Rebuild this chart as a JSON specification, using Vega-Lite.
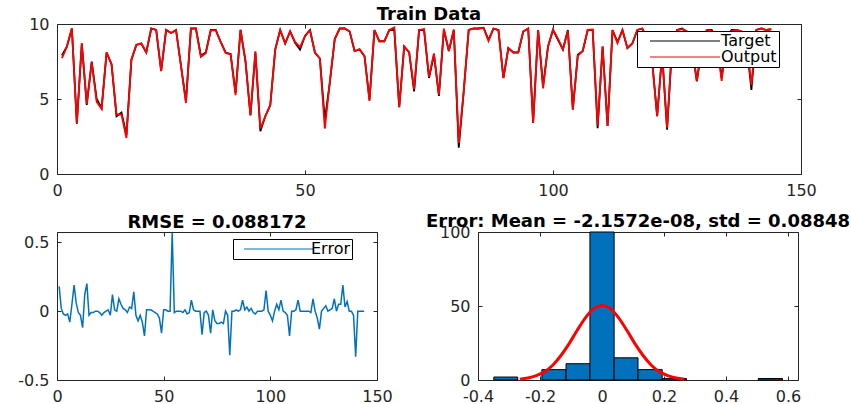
{
  "$schema": "https://vega.github.io/schema/vega-lite/v6.json",
  "background": "white",
  "padding": {"left": 17, "top": 5, "right": 0, "bottom": 0},
  "bounds": "flush",
  "spacing": 58,
  "resolve": {"scale": {"color": "independent"}, "legend": {"color": "independent"}},
  "config": {
    "locale": {"number": {"decimal": ".", "thousands": ",", "grouping": [3], "currency": ["$", ""], "minus": "-"}},
    "view": {"stroke": "#262626", "strokeWidth": 1},
    "axis": {"domain": false, "grid": false, "tickSize": -4, "tickColor": "#262626", "tickWidth": 1,
             "labelFont": "DejaVu Sans", "labelFontSize": 16, "labelColor": "#262626", "labelPadding": 12,
             "labelFlush": false, "labelOverlap": false},
    "title": {"font": "DejaVu Sans", "fontSize": 18, "fontWeight": "bold", "color": "#000000", "offset": 1},
    "legend": {"strokeColor": "#000000", "fillColor": "#ffffff", "labelFont": "DejaVu Sans", "labelFontSize": 16,
               "labelColor": "#000000", "labelLimit": 0, "title": null, "symbolType": "M-7,0L7,0", "symbolSize": 100,
               "symbolStrokeWidth": 1.2, "padding": 2, "rowPadding": 0}
  },
  "datasets": {
    "series": [
      {"i":1,"t":7.9,"o":7.72,"e":0.18},{"i":2,"t":8.5,"o":8.48,"e":0.02},{"i":3,"t":9.7,"o":9.72,"e":-0.02},{"i":4,"t":3.35,"o":3.38,"e":-0.03},
      {"i":5,"t":8.7,"o":8.72,"e":-0.02},{"i":6,"t":4.6,"o":4.68,"e":-0.08},{"i":7,"t":7.5,"o":7.45,"e":0.05},{"i":8,"t":5.0,"o":4.81,"e":0.19},
      {"i":9,"t":4.4,"o":4.34,"e":0.06},{"i":10,"t":8.1,"o":8.11,"e":-0.01},{"i":11,"t":7.3,"o":7.33,"e":-0.03},{"i":12,"t":3.85,"o":3.97,"e":-0.12},
      {"i":13,"t":4.1,"o":3.98,"e":0.12},{"i":14,"t":2.6,"o":2.4,"e":0.2},{"i":15,"t":7.6,"o":7.63,"e":-0.03},{"i":16,"t":8.6,"o":8.61,"e":-0.01},
      {"i":17,"t":8.7,"o":8.71,"e":-0.01},{"i":18,"t":8.1,"o":8.1,"e":0},{"i":19,"t":9.7,"o":9.7,"e":0},{"i":20,"t":9.6,"o":9.61,"e":-0.01},
      {"i":21,"t":6.85,"o":6.88,"e":-0.03},{"i":22,"t":9.6,"o":9.61,"e":-0.01},{"i":23,"t":9.4,"o":9.4,"e":0},{"i":24,"t":9.6,"o":9.59,"e":0.01},
      {"i":25,"t":7.2,"o":7.23,"e":-0.03},{"i":26,"t":4.85,"o":4.73,"e":0.12},{"i":27,"t":9.7,"o":9.69,"e":0.01},{"i":28,"t":9.7,"o":9.7,"e":0},
      {"i":29,"t":7.9,"o":7.81,"e":0.09},{"i":30,"t":8.1,"o":8.05,"e":0.05},{"i":31,"t":9.6,"o":9.58,"e":0.02},{"i":32,"t":9.6,"o":9.59,"e":0.01},
      {"i":33,"t":8.8,"o":8.81,"e":-0.01},{"i":34,"t":8.1,"o":8.07,"e":0.03},{"i":35,"t":8.0,"o":7.98,"e":0.02},{"i":36,"t":5.4,"o":5.26,"e":0.14},
      {"i":37,"t":9.6,"o":9.63,"e":-0.03},{"i":38,"t":7.5,"o":7.57,"e":-0.07},{"i":39,"t":3.9,"o":3.93,"e":-0.03},{"i":40,"t":8.1,"o":8.18,"e":-0.08},
      {"i":41,"t":2.85,"o":3.03,"e":-0.18},{"i":42,"t":3.85,"o":3.84,"e":0.01},{"i":43,"t":4.6,"o":4.59,"e":0.01},{"i":44,"t":8.3,"o":8.29,"e":0.01},
      {"i":45,"t":9.6,"o":9.6,"e":0},{"i":46,"t":8.7,"o":8.71,"e":-0.01},{"i":47,"t":9.5,"o":9.52,"e":-0.02},{"i":48,"t":8.75,"o":8.8,"e":-0.05},
      {"i":49,"t":8.3,"o":8.46,"e":-0.16},{"i":50,"t":9.2,"o":9.19,"e":0.01},{"i":51,"t":9.6,"o":9.59,"e":0.01},{"i":52,"t":8.1,"o":8.1,"e":0},
      {"i":53,"t":7.7,"o":7.7,"e":0},{"i":54,"t":3.6,"o":3.03,"e":0.57},{"i":55,"t":6.1,"o":6.11,"e":-0.01},{"i":56,"t":9.0,"o":9.0,"e":0},
      {"i":57,"t":9.7,"o":9.7,"e":0},{"i":58,"t":9.7,"o":9.7,"e":0},{"i":59,"t":9.5,"o":9.51,"e":-0.01},{"i":60,"t":8.2,"o":8.19,"e":0.01},
      {"i":61,"t":8.3,"o":8.32,"e":-0.02},{"i":62,"t":7.85,"o":7.86,"e":-0.01},{"i":63,"t":4.95,"o":4.87,"e":0.08},{"i":64,"t":9.6,"o":9.59,"e":0.01},
      {"i":65,"t":8.85,"o":8.85,"e":0},{"i":66,"t":8.85,"o":8.85,"e":0},{"i":67,"t":9.6,"o":9.6,"e":0},{"i":68,"t":9.6,"o":9.77,"e":-0.17},
      {"i":69,"t":4.45,"o":4.46,"e":-0.01},{"i":70,"t":8.5,"o":8.5,"e":0},{"i":71,"t":8.1,"o":8.13,"e":-0.03},{"i":72,"t":5.5,"o":5.66,"e":-0.16},
      {"i":73,"t":9.6,"o":9.59,"e":0.01},{"i":74,"t":9.6,"o":9.67,"e":-0.07},{"i":75,"t":6.4,"o":6.49,"e":-0.09},{"i":76,"t":7.95,"o":8.04,"e":-0.09},
      {"i":77,"t":5.2,"o":5.28,"e":-0.08},{"i":78,"t":9.6,"o":9.69,"e":-0.09},{"i":79,"t":8.2,"o":8.2,"e":0},{"i":80,"t":9.6,"o":9.63,"e":-0.03},
      {"i":81,"t":1.75,"o":2.07,"e":-0.32},{"i":82,"t":5.5,"o":5.5,"e":0},{"i":83,"t":9.6,"o":9.6,"e":0},{"i":84,"t":9.7,"o":9.69,"e":0.01},
      {"i":85,"t":9.7,"o":9.7,"e":0},{"i":86,"t":9.75,"o":9.74,"e":0.01},{"i":87,"t":8.95,"o":8.87,"e":0.08},{"i":88,"t":9.7,"o":9.69,"e":0.01},
      {"i":89,"t":9.6,"o":9.57,"e":0.03},{"i":90,"t":6.4,"o":6.4,"e":0},{"i":91,"t":8.4,"o":8.38,"e":0.02},{"i":92,"t":8.1,"o":8.11,"e":-0.01},
      {"i":93,"t":8.1,"o":8.12,"e":-0.02},{"i":94,"t":9.5,"o":9.5,"e":0},{"i":95,"t":9.7,"o":9.7,"e":0},{"i":96,"t":3.4,"o":3.4,"e":0},
      {"i":97,"t":9.6,"o":9.59,"e":0.01},{"i":98,"t":5.85,"o":5.7,"e":0.15},{"i":99,"t":8.5,"o":8.5,"e":0},{"i":100,"t":9.6,"o":9.63,"e":-0.03},
      {"i":101,"t":8.95,"o":9.02,"e":-0.07},{"i":102,"t":8.3,"o":8.3,"e":0},{"i":103,"t":9.6,"o":9.55,"e":0.05},{"i":104,"t":4.3,"o":4.29,"e":0.01},
      {"i":105,"t":7.95,"o":7.87,"e":0.08},{"i":106,"t":8.2,"o":8.2,"e":0},{"i":107,"t":9.6,"o":9.61,"e":-0.01},{"i":108,"t":9.6,"o":9.63,"e":-0.03},
      {"i":109,"t":3.05,"o":3.23,"e":-0.18},{"i":110,"t":8.5,"o":8.5,"e":0},{"i":111,"t":3.2,"o":3.2,"e":0},{"i":112,"t":9.6,"o":9.59,"e":0.01},
      {"i":113,"t":8.8,"o":8.72,"e":0.08},{"i":114,"t":9.6,"o":9.6,"e":0},{"i":115,"t":8.4,"o":8.4,"e":0},{"i":116,"t":8.7,"o":8.7,"e":0},
      {"i":117,"t":9.6,"o":9.6,"e":0},{"i":118,"t":9.7,"o":9.7,"e":0},{"i":119,"t":9.0,"o":9.01,"e":-0.01},{"i":120,"t":7.5,"o":7.41,"e":0.09},
      {"i":121,"t":3.85,"o":3.85,"e":0},{"i":122,"t":8.0,"o":8.05,"e":-0.05},{"i":123,"t":2.95,"o":3.08,"e":-0.13},{"i":124,"t":8.5,"o":8.5,"e":0},
      {"i":125,"t":9.6,"o":9.58,"e":0.02},{"i":126,"t":9.7,"o":9.66,"e":0.04},{"i":127,"t":9.5,"o":9.5,"e":0},{"i":128,"t":8.5,"o":8.49,"e":0.01},
      {"i":129,"t":6.2,"o":6.18,"e":0.02},{"i":130,"t":8.5,"o":8.41,"e":0.09},{"i":131,"t":9.6,"o":9.6,"e":0},{"i":132,"t":9.6,"o":9.55,"e":0.05},
      {"i":133,"t":9.0,"o":8.95,"e":0.05},{"i":134,"t":6.4,"o":6.21,"e":0.19},{"i":135,"t":9.0,"o":8.97,"e":0.03},{"i":136,"t":9.6,"o":9.53,"e":0.07},
      {"i":137,"t":9.6,"o":9.6,"e":0},{"i":138,"t":9.5,"o":9.5,"e":0},{"i":139,"t":8.8,"o":8.83,"e":-0.03},{"i":140,"t":5.6,"o":5.93,"e":-0.33},
      {"i":141,"t":9.6,"o":9.6,"e":0},{"i":142,"t":9.7,"o":9.7,"e":0},{"i":143,"t":9.6,"o":9.6,"e":0},{"i":144,"t":9.65,"o":9.65,"e":0}
    ],
    "hist": [
      {"b0":-0.349,"b1":-0.272,"n":2},
      {"b0":-0.194,"b1":-0.116,"n":7},
      {"b0":-0.116,"b1":-0.039,"n":11},
      {"b0":-0.039,"b1":0.039,"n":100},
      {"b0":0.039,"b1":0.116,"n":15},
      {"b0":0.116,"b1":0.194,"n":7},
      {"b0":0.194,"b1":0.272,"n":1},
      {"b0":0.504,"b1":0.582,"n":1}
    ],
    "fit": [
      {"x":-0.265,"y":0.57},{"x":-0.239,"y":1.3},{"x":-0.212,"y":2.9},{"x":-0.186,"y":5.5},{"x":-0.159,"y":10.0},
      {"x":-0.133,"y":16.4},{"x":-0.106,"y":24.6},{"x":-0.08,"y":33.6},{"x":-0.053,"y":42.1},{"x":-0.027,"y":48.2},
      {"x":0,"y":50.4},
      {"x":0.027,"y":48.2},{"x":0.053,"y":42.1},{"x":0.08,"y":33.6},{"x":0.106,"y":24.6},{"x":0.133,"y":16.4},
      {"x":0.159,"y":10.0},{"x":0.186,"y":5.5},{"x":0.212,"y":2.9},{"x":0.239,"y":1.3},{"x":0.265,"y":0.57}
    ]
  },
  "vconcat": [
    {
      "width": 744,
      "height": 150,
      "title": {"text": "Train Data", "offset": -7.5},
      "data": {"name": "series"},
      "resolve": {"axis": {"x": "independent", "y": "independent"}},
      "layer": [
        {
          "mark": {"type": "line", "strokeWidth": 1.8},
          "encoding": {
            "x": {"field": "i", "type": "quantitative", "scale": {"domain": [0, 150], "nice": false, "zero": false},
                  "axis": {"values": [0, 50, 100, 150], "format": "~f", "title": null}},
            "y": {"field": "t", "type": "quantitative", "scale": {"domain": [0, 10], "nice": false},
                  "axis": {"values": [0, 5, 10], "format": "~f", "title": null}},
            "color": {"datum": "Target", "type": "nominal",
                      "scale": {"domain": ["Target", "Output"], "range": ["#000000", "#ff0000"]},
                      "legend": {"orient": "none", "legendX": 580, "legendY": 7, "symbolOffset": 38, "labelOffset": 28}}
          }
        },
        {
          "mark": {"type": "line", "strokeWidth": 1.8},
          "encoding": {
            "x": {"field": "i", "type": "quantitative", "scale": {"domain": [0, 150], "nice": false, "zero": false}, "axis": null},
            "y": {"field": "o", "type": "quantitative", "scale": {"domain": [0, 10], "nice": false}, "axis": null},
            "color": {"datum": "Output", "type": "nominal",
                      "scale": {"domain": ["Target", "Output"], "range": ["#000000", "#ff0000"]}}
          }
        },
        {
          "mark": {"type": "point", "opacity": 0},
          "encoding": {
            "x": {"field": "i", "type": "quantitative", "scale": {"domain": [0, 150], "nice": false, "zero": false},
                  "axis": {"orient": "top", "labels": false, "labelPadding": 0, "values": [0, 50, 100, 150], "title": null}},
            "y": {"field": "t", "type": "quantitative", "scale": {"domain": [0, 10], "nice": false},
                  "axis": {"orient": "right", "labels": false, "labelPadding": 0, "values": [0, 5, 10], "title": null}}
          }
        }
      ]
    },
    {
      "bounds": "flush",
      "spacing": 101,
      "resolve": {"scale": {"color": "independent"}, "legend": {"color": "independent"}},
      "hconcat": [
        {
          "width": 320,
          "height": 148,
          "title": {"text": "RMSE = 0.088172", "offset": -2},
          "data": {"name": "series"},
          "resolve": {"axis": {"x": "independent", "y": "independent"}},
          "layer": [
            {
              "mark": {"type": "line", "strokeWidth": 1.5},
              "encoding": {
                "x": {"field": "i", "type": "quantitative", "scale": {"domain": [0, 150], "nice": false, "zero": false},
                      "axis": {"values": [0, 50, 100, 150], "format": "~f", "title": null}},
                "y": {"field": "e", "type": "quantitative", "scale": {"domain": [-0.5, 0.575], "nice": false, "zero": false},
                      "axis": {"values": [-0.5, 0, 0.5], "format": "~f", "title": null}},
                "color": {"datum": "Error", "type": "nominal", "scale": {"domain": ["Error"], "range": ["#0072BD"]},
                          "legend": {"orient": "none", "legendX": 176, "legendY": 7, "symbolOffset": 36, "labelOffset": 24}}
              }
            },
            {
              "mark": {"type": "point", "opacity": 0},
              "encoding": {
                "x": {"field": "i", "type": "quantitative", "scale": {"domain": [0, 150], "nice": false, "zero": false},
                      "axis": {"orient": "top", "labels": false, "labelPadding": 0, "values": [0, 50, 100, 150], "title": null}},
                "y": {"field": "e", "type": "quantitative", "scale": {"domain": [-0.5, 0.575], "nice": false, "zero": false},
                      "axis": {"orient": "right", "labels": false, "labelPadding": 0, "values": [-0.5, 0, 0.5], "title": null}}
              }
            }
          ]
        },
        {
          "width": 320,
          "height": 148,
          "title": {"text": "Error: Mean = -2.1572e-08, std = 0.08848", "offset": -7},
          "resolve": {"axis": {"x": "independent", "y": "independent"}},
          "layer": [
            {
              "data": {"name": "hist"},
              "mark": {"type": "rect", "fill": "#0072BD", "stroke": "#000000", "strokeWidth": 1},
              "encoding": {
                "x": {"field": "b0", "type": "quantitative", "scale": {"domain": [-0.4, 0.632], "nice": false, "zero": false},
                      "axis": {"values": [-0.4, -0.2, 0, 0.2, 0.4, 0.6], "format": "~f", "title": null}},
                "x2": {"field": "b1"},
                "y": {"field": "n", "type": "quantitative", "scale": {"domain": [0, 100], "nice": false},
                      "axis": {"values": [0, 50, 100], "format": "~f", "title": null}},
                "y2": {"datum": 0}
              }
            },
            {
              "data": {"name": "fit"},
              "mark": {"type": "line", "color": "#ff0000", "strokeWidth": 3, "interpolate": "monotone"},
              "encoding": {
                "x": {"field": "x", "type": "quantitative", "scale": {"domain": [-0.4, 0.632], "nice": false, "zero": false},
                      "axis": {"orient": "top", "labels": false, "labelPadding": 0, "values": [-0.4, -0.2, 0, 0.2, 0.4, 0.6], "title": null}},
                "y": {"field": "y", "type": "quantitative", "scale": {"domain": [0, 100], "nice": false},
                      "axis": {"orient": "right", "labels": false, "labelPadding": 0, "values": [0, 50, 100], "title": null}}
              }
            }
          ]
        }
      ]
    }
  ]
}
